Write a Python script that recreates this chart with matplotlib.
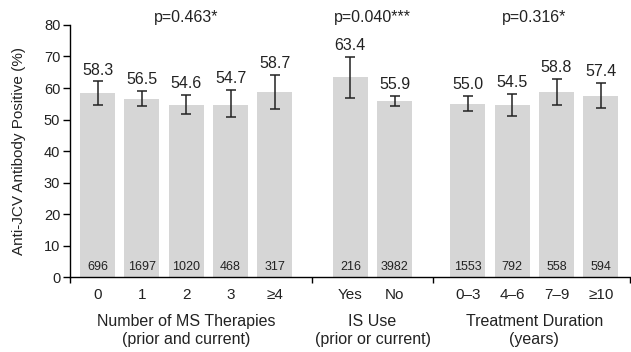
import matplotlib.pyplot as plt

plt.rcParams['font.family'] = ['Liberation Sans', 'DejaVu Sans']

# percentages, 95% CI bounds and n per category
labels = ['0', '1', '2', '3', '\u22654', 'Yes', 'No', '0\u20133', '4\u20136', '7\u20139', '\u226510']
pct = [58.3, 56.5, 54.6, 54.7, 58.7, 63.4, 55.9, 55.0, 54.5, 58.8, 57.4]
ci_low = [54.7, 54.2, 51.7, 50.8, 53.2, 56.8, 54.4, 52.7, 51.2, 54.7, 53.5]
ci_high = [62.1, 59.0, 57.8, 59.5, 64.2, 69.9, 57.6, 57.6, 58.2, 62.9, 61.5]
counts = [696, 1697, 1020, 468, 317, 216, 3982, 1553, 792, 558, 594]

groups = ['Number of MS Therapies\n(prior and current)', 'IS Use\n(prior or current)',
          'Treatment Duration\n(years)']
pvals = ['p=0.463*', 'p=0.040***', 'p=0.316*']

x = [0, 1, 2, 3, 4, 5.7, 6.7, 8.35, 9.35, 10.35, 11.35]
group_idx = [[0, 1, 2, 3, 4], [5, 6], [7, 8, 9, 10]]
txt = '#222222'

fig = plt.figure(figsize=(6.31, 3.52), dpi=100)
ax = fig.add_axes([0.111, 0.213, 0.887, 0.716])

yerr = [[p - l for p, l in zip(pct, ci_low)], [h - p for p, h in zip(pct, ci_high)]]
ax.bar(x, pct, width=0.79, color='#d6d6d6', zorder=1)
ax.errorbar(x, pct, yerr=yerr, fmt='none', ecolor='#222222', elinewidth=1.1,
            capsize=3.5, capthick=1.1, zorder=2)

for xi, p, h, n in zip(x, pct, ci_high, counts):
    ax.text(xi, h + 1.2, f'{p:.1f}', ha='center', va='bottom', fontsize=11.5, color=txt)
    ax.text(xi, 1.3, str(n), ha='center', va='bottom', fontsize=9, color=txt)

for g, idx in enumerate(group_idx):
    cx = sum(x[i] for i in idx) / len(idx)
    ax.text(cx, 82.3, pvals[g], ha='center', va='center', fontsize=11.5, color=txt, clip_on=False)
    ax.text(cx, -11.8, groups[g], ha='center', va='top', fontsize=11.5, color=txt,
            linespacing=1.25, clip_on=False)

ax.set_xlim(-0.62, 12.0)
ax.set_ylim(0, 80)
ax.set_yticks(range(0, 81, 10))
ax.set_xticks([-0.62, 4.84, 7.57, 12.0])
ax.set_xticklabels([])
ax.set_xticks(x, minor=True)
ax.set_xticklabels(labels, minor=True, fontsize=11, color=txt)
ax.tick_params(axis='x', which='minor', length=0, pad=8)
ax.tick_params(axis='x', which='major', length=4, width=1)
ax.tick_params(axis='y', length=5, width=1, labelsize=10.5, labelcolor=txt, pad=2)

ax.set_ylabel('Anti-JCV Antibody Positive (%)', fontsize=11, color=txt)
ax.yaxis.set_label_coords(-0.078, 0.5)

for s in ['top', 'right']:
    ax.spines[s].set_visible(False)
ax.spines['left'].set_linewidth(1)
ax.spines['bottom'].set_linewidth(1)

fig.savefig('out.png', dpi=100)
